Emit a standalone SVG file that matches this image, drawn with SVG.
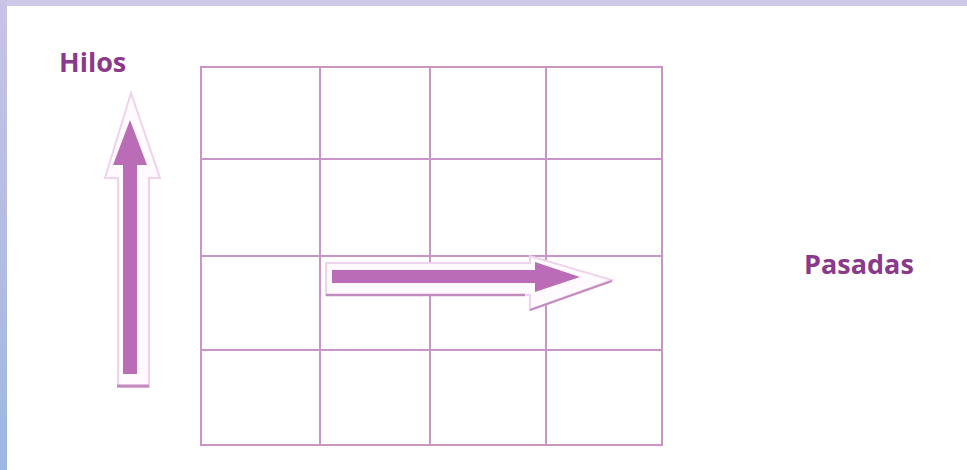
<svg xmlns="http://www.w3.org/2000/svg" width="967" height="470" viewBox="0 0 967 470">
<defs>
<linearGradient id="lg" x1="0" y1="0" x2="0" y2="1"><stop offset="0" stop-color="#c9c3e6"/><stop offset="1" stop-color="#9db7e4"/></linearGradient>
<style>
.grid{stroke:#c995c6;stroke-width:2;fill:none}
.fillA{fill:#ba6db6}
.outl{fill:#fffafd;stroke:#f0d2ec;stroke-width:2}
.lbl{font-family:"Open Sans","Liberation Sans",sans-serif;font-weight:bold;font-size:27px;fill:#8a3a8a}
</style>
</defs>
<rect x="0" y="0" width="967" height="470" fill="#ffffff"/>
<rect x="0" y="0" width="967" height="6" fill="#cdc8e8"/>
<rect x="0" y="0" width="7" height="470" fill="url(#lg)"/>
<g id="grid">
<rect class="grid" x="201" y="67" width="461" height="378"/>
<line class="grid" x1="320" y1="67" x2="320" y2="445"/>
<line class="grid" x1="430" y1="67" x2="430" y2="445"/>
<line class="grid" x1="546" y1="67" x2="546" y2="445"/>
<line class="grid" x1="201" y1="159" x2="662" y2="159"/>
<line class="grid" x1="201" y1="256" x2="662" y2="256"/>
<line class="grid" x1="201" y1="350" x2="662" y2="350"/>
</g>
<g id="connectors">
<g id="arrow-hilos">
<polygon class="outl" points="131,93 160,178 149,178 149,387 118,387 118,178 105,178"/>
<line x1="117" y1="386" x2="149" y2="386" stroke="#c28bbf" stroke-width="3"/>
<polygon class="fillA" points="130,120 147,165 137,165 137,374 123,374 123,165 113,165"/>
</g>
<g id="arrow-pasadas">
<polygon class="outl" points="326,263 530,263 530,256 612,280 530,310 530,295 326,295"/>
<line x1="326" y1="295" x2="525" y2="295" stroke="#c28bbf" stroke-width="2.5"/>
<line x1="530" y1="310" x2="612" y2="281" stroke="#c28bbf" stroke-width="2"/>
<polygon class="fillA" points="332,270 535,270 535,262 580,277 535,292 535,283 332,283"/>
</g>
</g>
<g id="label-hilos"><text class="lbl" x="59" y="72">Hilos</text></g>
<g id="label-pasadas"><text class="lbl" x="804" y="274">Pasadas</text></g>
</svg>
